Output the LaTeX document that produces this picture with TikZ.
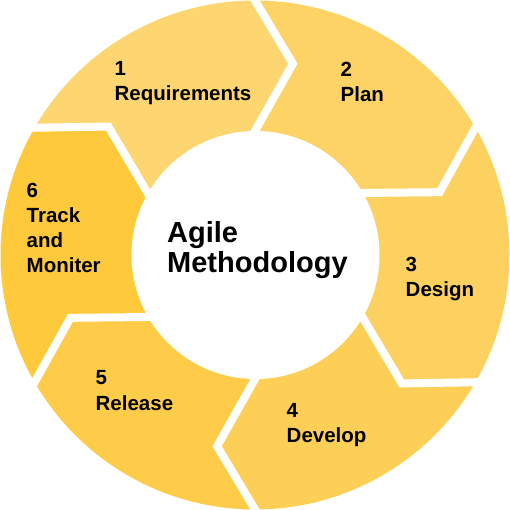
\documentclass[tikz,border=0pt]{standalone}
\usepackage{fontspec}
\setmainfont{Liberation Sans}
\usetikzlibrary{calc}
\definecolor{segA}{HTML}{FDD672}
\definecolor{segB}{HTML}{FDD366}
\definecolor{segC}{HTML}{FDD160}
\definecolor{segD}{HTML}{FDCF57}
\definecolor{segE}{HTML}{FECC48}
\definecolor{segF}{HTML}{FFC93C}
\newcommand\stacklines[1]{\begin{tabular}[t]{@{}l@{}}#1\end{tabular}}
\tikzset{
  gap/.style={white, line width=8pt, line join=miter},
  lbl/.style={font=\fontsize{20.5}{25}\selectfont\bfseries, anchor=base west, inner sep=0pt, text=black},
  ttl/.style={font=\fontsize{29}{28}\selectfont\bfseries, anchor=base west, inner sep=0pt, text=black}
}
\begin{document}
\begin{tikzpicture}[x=1pt,y=1pt]
\useasboundingbox (-255,-255) rectangle (255,255);
\def\Rout{254.5}
\def\Rin{124}
\def\Rtip{195}
\def\dT{11.2}
% segments
\foreach \s/\c in {150/segA, 90/segB, 30/segC, -30/segD, -90/segE, -150/segF} {
  \pgfmathsetmacro\e{\s-60}
  \pgfmathsetmacro\te{\e-\dT}
  \pgfmathsetmacro\ts{\s-\dT}
  \fill[\c] (\s:\Rout) arc[start angle=\s, end angle=\e, radius=\Rout]
     -- (\te:\Rtip) -- (\e:\Rin) -- (0,0) -- (\s:\Rin) -- (\ts:\Rtip) -- cycle;
}
% white chevron gaps
\foreach \b in {150, 90, 30, -30, -90, -150} {
  \pgfmathsetmacro\tb{\b-\dT}
  \coordinate (tip) at (\tb:\Rtip);
  \coordinate (o) at (\b:\Rout);
  \coordinate (i) at (\b:\Rin);
  \draw[gap] ($(tip)!1.2!(o)$) -- (tip) -- ($(tip)!1.3!(i)$);
}
% centre disk
\fill[white] (0.5,0) circle (\Rin);
% labels
\node[lbl] (l1) at (-140.5,179) {\stacklines{1\\Requirements}};
\node[lbl] (l2) at (85.5,178) {\stacklines{2\\Plan}};
\node[lbl] (l3) at (150.5,-17) {\stacklines{3\\Design}};
\node[lbl] (l4) at (31.5,-162) {\stacklines{4\\Develop}};
\node[lbl] (l5) at (-159.5,-130) {\stacklines{5\\Release}};
\node[lbl] (l6) at (-228.5,57) {\stacklines{6\\Track\\and\\Moniter}};
\node[ttl] (title) at (-88,12) {\stacklines{Agile\\Methodology}};
\end{tikzpicture}
\end{document}
